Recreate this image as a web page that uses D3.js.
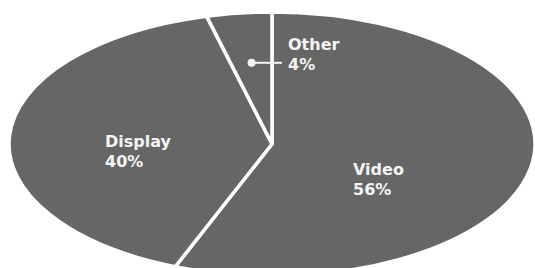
<!DOCTYPE html>
<html>
<head>
<meta charset="utf-8">
<script src="https://cdn.jsdelivr.net/npm/d3@7"></script>
<style>
  body { margin: 0; background: #fff; }
  svg { display: block; }
  text { font-family: "DejaVu Sans", sans-serif; font-weight: bold; font-size: 16px; fill: #f4f4f4; }
</style>
</head>
<body>
<svg id="chart" width="535" height="268"></svg>
<script>
// slices, clockwise from 12 o'clock
const categories = ['Video', 'Display', 'Other'];
const shares = [56, 40, 4];

const svg = d3.select('#chart'),
  cx = 272, cy = 144,
  rx = 263, ry = 132,
  g = svg.append('g').attr('transform', 'translate(' + cx + ',' + cy + ') scale(' + (rx / ry) + ',1)');

const data = categories.map(function (c, i) {
  return {name: c, value: shares[i]};
});

const pie = d3.pie().sort(null).value(function (d) { return d.value; });
const arcs = pie(data);

const arc = d3.arc().innerRadius(0).outerRadius(ry);

g.selectAll('path')
  .data(arcs)
  .enter().append('path')
  .attr('d', arc)
  .attr('fill', '#666666')
  .attr('stroke', '#ffffff')
  .attr('stroke-width', 3.5)
  .attr('stroke-linejoin', 'round')
  .attr('vector-effect', 'non-scaling-stroke');

// label anchors (page coords), tuned by eye
const labelPos = {Video: [353, 175], Display: [105, 147], Other: [288, 50]};

const labels = svg.append('g');
arcs.forEach(function (a) {
  const p = labelPos[a.data.name];
  const t = labels.append('text').attr('x', p[0]).attr('y', p[1]);
  t.append('tspan').attr('x', p[0]).text(a.data.name);
  t.append('tspan').attr('x', p[0]).attr('dy', 20).text(a.data.value + '%');
});

// leader for the small slice
const other = arcs[2];
const dotArc = d3.arc().innerRadius(ry * 0.62).outerRadius(ry * 0.62);
const c = dotArc.centroid(other);
const dx = cx + c[0] * rx / ry, dy = cy + c[1];
labels.append('line')
  .attr('x1', dx).attr('y1', dy)
  .attr('x2', labelPos.Other[0] - 6).attr('y2', dy)
  .attr('stroke', '#f4f4f4').attr('stroke-width', 2);
labels.append('circle')
  .attr('cx', dx).attr('cy', dy).attr('r', 4)
  .attr('fill', '#f4f4f4');
</script>
</body>
</html>
